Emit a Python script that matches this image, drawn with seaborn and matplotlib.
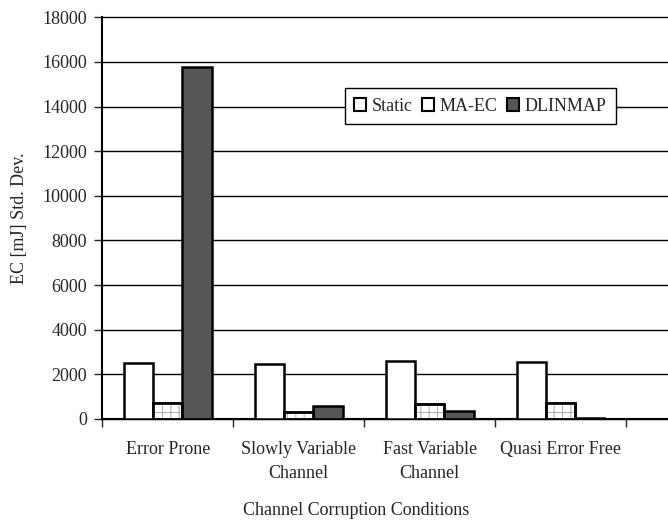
import matplotlib
matplotlib.use('Agg')
import matplotlib.pyplot as plt
from matplotlib.patches import Patch, Rectangle
import seaborn as sns
import pandas as pd

# Values
conditions = ['Error Prone', 'Slowly Variable\nChannel', 'Fast Variable\nChannel', 'Quasi Error Free']
series = ['Static', 'MA-EC', 'DLINMAP']
static_vals = [2500, 2470, 2580, 2530]
maec_vals = [700, 300, 650, 700]
dlinmap_vals = [15750, 580, 360, 60]

rows = []
for name, vals in zip(series, [static_vals, maec_vals, dlinmap_vals]):
    for cond, v in zip(conditions, vals):
        rows.append({'condition': cond, 'series': name, 'value': v})
df = pd.DataFrame(rows)

sns.set_style('white')
plt.rcParams['font.family'] = ['Liberation Serif', 'DejaVu Serif']
plt.rcParams['hatch.linewidth'] = 0.8

fig = plt.figure(figsize=(6.68, 5.23), dpi=100)
ax = fig.add_axes([0.153, 0.199, 0.847, 0.768])

fills = {'Static': 'white', 'MA-EC': 'white', 'DLINMAP': '#565656'}
sns.barplot(data=df, x='condition', y='value', hue='series', palette=fills,
            width=0.67, edgecolor='black', linewidth=1.8, saturation=1,
            legend=False, ax=ax, zorder=3)

# dotted-grid look for MA-EC bars
for bar in ax.containers[1]:
    ax.add_patch(Rectangle((bar.get_x(), bar.get_y()), bar.get_width(), bar.get_height(),
                           facecolor='none', edgecolor='#b0b0b0', hatch='++', lw=0, zorder=3.5))
    ax.add_patch(Rectangle((bar.get_x(), bar.get_y()), bar.get_width(), bar.get_height(),
                           facecolor='none', edgecolor='black', lw=1.8, zorder=4))

ax.set_ylim(0, 18000)
ax.set_xlim(-0.5, 3.82)
ax.set_yticks(range(0, 18001, 2000))
ax.tick_params(axis='y', labelsize=13, length=6, width=1, direction='out', left=True, pad=5)
ax.set_xticks(range(len(conditions)))
ax.set_xticklabels(conditions, fontsize=13)
for t in ax.get_xticklabels():
    t.set_linespacing(1.55)
ax.set_xticks([-0.5, 0.5, 1.5, 2.5, 3.5], minor=True)
ax.tick_params(axis='x', which='major', length=0, pad=16)
ax.tick_params(axis='x', which='minor', length=6, width=1, direction='out', bottom=True)

ax.yaxis.grid(True, color='black', linewidth=1)
ax.set_axisbelow(True)
for gl in ax.get_ygridlines():
    gl.set_clip_on(False)

sns.despine(ax=ax, top=True, right=True)
ax.spines['left'].set_linewidth(1.5)
ax.spines['bottom'].set_linewidth(1.5)
ax.spines['left'].set_color('black')
ax.spines['bottom'].set_color('black')

ax.set_ylabel('EC [mJ] Std. Dev.', fontsize=13, labelpad=10)
ax.set_xlabel('Channel Corruption Conditions', fontsize=13)
ax.xaxis.set_label_coords(0.449, -0.207)

handles = [
    Patch(facecolor='white', edgecolor='black', lw=1.5),
    Patch(facecolor='white', edgecolor='black', lw=1.5),
    Patch(facecolor='#565656', edgecolor='black', lw=1.5),
]
leg = ax.legend(handles, series, ncol=3, loc='center', bbox_to_anchor=(0.668, 0.779),
                frameon=True, fancybox=False, edgecolor='black', fontsize=13,
                handlelength=0.7, handleheight=0.7, handletextpad=0.3, columnspacing=0.5,
                borderpad=0.5, framealpha=1)
leg.get_frame().set_linewidth(1)
leg.set_zorder(5)

fig.savefig('out.png', dpi=100)
